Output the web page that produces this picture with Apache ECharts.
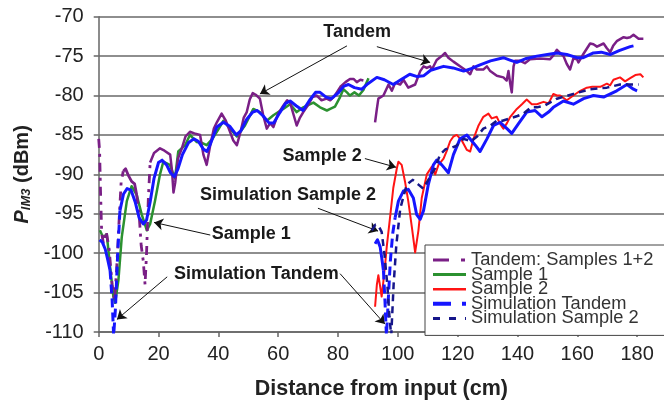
<!DOCTYPE html>
<html>
<head>
<meta charset="utf-8">
<script src="https://cdn.jsdelivr.net/npm/echarts@6/dist/echarts.min.js"></script>
<style>
html,body{margin:0;padding:0;background:#fff;}
#c{width:664px;height:405px;}
</style>
</head>
<body>
<div id="c"></div>
<script>
// ---- data (x = distance cm, y = P_IM3 dBm) ----
const xTicks = [0, 20, 40, 60, 80, 100, 120, 140, 160, 180];

const tandemDash1 = [[0,-85.5],[0.3,-87],[0.6,-92],[1,-97.5],[1.6,-98.8],[2.5,-97.2],[3.5,-99.5],[4.5,-104],[5.3,-106],[6,-102],[6.8,-96],[7.5,-91],[8.2,-89.6]];
const tandemA = [[8.2,-89.6],[9,-89.3],[10,-90.2],[11,-90.9],[12,-91.2],[12.7,-92.6]];
const tandemDash2 = [[12.7,-92.6],[13.5,-95],[14.2,-99],[14.9,-101],[15.5,-104],[16,-100],[16.6,-93],[17.2,-88.5]];
const tandemB = [[17.2,-88.5],[18.5,-87.3],[20.5,-86.7],[22,-87],[23.9,-87.5],[24.5,-89.5],[25,-92.3],[25.6,-91],[26.5,-88],[27.8,-86.7],[29,-85.2],[30.5,-84.6],[32,-84.8],[33.9,-85],[35,-87.5],[36.1,-88.8],[37.2,-86.5],[38.5,-84.2],[39.5,-83.4],[41.1,-82.3],[42.5,-83.2],[43.9,-84.6],[45,-85.7],[46.2,-86.3],[47.5,-84.5],[48.5,-82.8],[49.5,-82.1],[50.5,-80.5],[51.5,-79.7],[52.5,-79.9],[53.9,-80.4],[55,-82.5],[56.2,-84.2],[57.3,-83.5],[58.4,-84],[60,-82.3],[61.7,-81.3],[63,-80.6],[64,-80.9],[65.2,-82.5],[66.2,-83.8],[67.3,-82.8],[68.4,-82.1],[70,-81.2],[71.5,-80.2],[72.9,-80],[74.5,-80.6],[76.2,-80.4],[77.4,-80.6],[78.5,-80.2],[79.6,-79.6],[81,-78.8],[82.5,-78.3],[84,-77.9],[85.2,-77.9],[86.3,-78.3],[87.5,-78],[88.5,-78.1]];
const tandemC = [[92.4,-83.4],[93,-81.7],[93.5,-80.4],[94.1,-80.6],[95.2,-80],[96.9,-78.6],[98,-79.4],[99.1,-78.4],[100.8,-78.6],[101.9,-78],[102.4,-77.9],[103.5,-79],[104.1,-78.8],[105.8,-78.6],[106.4,-78.8],[107.5,-76.9],[108.6,-76.3],[109.7,-76.5],[110.8,-76.3],[111.4,-76.7],[113,-75.5],[114.7,-75],[115.8,-74.6],[116.9,-75.2],[118.6,-75.7],[120.8,-76.3],[123.1,-76.9],[124.2,-77.3],[125.3,-76.3],[126.4,-76.7],[128.6,-76.7],[129.8,-76.3],[130.9,-76.9],[133.1,-77.5],[135.3,-77.7],[136.4,-78.1],[137,-76.9],[137.6,-78.5],[138.1,-79.6],[138.7,-76.3],[139.2,-75.6],[140.9,-75.6],[142.5,-75.9],[144.2,-75.4],[147.6,-75.3],[150.9,-75.4],[152,-74.9],[153.2,-74.2],[155.4,-75],[156.5,-76],[157.6,-76.7],[158.7,-75.3],[159.9,-75.4],[160.4,-75.8],[162.1,-74.7],[164.3,-73.4],[165.4,-73.5],[166.6,-73.8],[168.8,-73.4],[169.9,-74],[171,-74.5],[172,-73.7],[173.2,-73.1],[175.5,-72.6],[176.6,-72.7],[177.7,-72.6],[178.8,-72.3],[179.4,-72.3],[180.5,-72.8],[182.1,-72.8]];

const sample1 = [[0.4,-97.1],[1.5,-98],[2.7,-97.6],[3.8,-101.7],[4.9,-105.5],[5.5,-106.3],[6.6,-103.4],[7.7,-98],[9.4,-93.4],[11,-91.5],[12.7,-92.6],[14.4,-95.1],[16.1,-97.1],[17.2,-96.3],[18.8,-93.4],[20.5,-90],[21.6,-88.4],[23.8,-88.8],[25.5,-90.5],[26.6,-87.1],[28.9,-86.3],[30.5,-85],[32.8,-85.9],[34.5,-86],[36.1,-86.3],[38,-85.5],[39.5,-84.6],[41.7,-83.2],[43.9,-84.2],[46.2,-85.2],[48.9,-83.8],[51.7,-81.7],[53.9,-82.1],[56.2,-83.2],[58.4,-82.5],[61.7,-81.7],[64,-81.1],[66.2,-82.1],[68.4,-81.5],[71.8,-80.9],[74,-81.5],[76.3,-81.9],[77.4,-81.7],[79,-81.4],[80.7,-80.2],[81.8,-79.2],[83,-79.6],[84,-80],[85.5,-79.6],[87,-80],[88.5,-79.3],[89.5,-78.4],[90.2,-77.8]];

const sample2 = [[92.4,-106.8],[93,-104],[93.5,-102.8],[94,-104],[94.6,-105.5],[95.2,-103.5],[95.8,-101.3],[96.3,-99.2],[97.4,-95.5],[98.5,-91.7],[99.7,-89.2],[100.2,-88.4],[101.3,-88.8],[102.4,-90.9],[103.5,-93.4],[104.7,-96.7],[105.8,-99.9],[106.9,-97.1],[108,-93],[109.7,-90],[111.4,-89],[112.5,-90],[113.6,-88.8],[115.3,-88],[116.4,-87],[117.5,-85.8],[118.6,-85.2],[119.7,-85],[121.4,-85.7],[123.1,-86.9],[124.2,-87.1],[125.3,-85.5],[127,-83.8],[128.6,-82.7],[130.3,-82.3],[131.4,-82.9],[133.1,-82.7],[134.2,-83.6],[135.3,-84.2],[136.5,-83.5],[137.6,-82.7],[139.8,-81.7],[141.5,-81.1],[143.1,-80.5],[144.8,-81.1],[146.5,-81.1],[148.7,-80.8],[150.4,-81],[152,-79.8],[153.2,-80],[154.3,-80],[156.5,-80.6],[158.7,-80],[161,-79.4],[163.2,-79],[165,-78.9],[167.7,-78.9],[169.9,-78.5],[171,-78.7],[172.1,-78],[174.3,-77.7],[176,-78.2],[177.7,-77.8],[179.4,-77.4],[181.1,-77.3],[182.1,-77.7]];

const simTandemA = [[0.3,-98.3],[1.2,-98.6],[2.2,-99.5],[3,-100.8],[3.8,-102.2]];
const simTandemDash = [[3.8,-102.2],[4.5,-106],[5,-110.5],[5.6,-107],[6.3,-100.5],[7.1,-94.6]];
const simTandemB = [[7.1,-94.6],[8.3,-92.5],[9.5,-91.8],[10.8,-92],[12.2,-93.5],[13.5,-95.5],[14.9,-96.3],[16,-95.8],[17.2,-93.5],[18.5,-90.5],[20,-88.5],[21.2,-88.2],[22.7,-88.8],[24,-89.8],[25.3,-90.3],[26.5,-89.3],[28,-87.5],[30,-86],[31.8,-85.5],[33.3,-85.8],[35,-86.8],[36.2,-87.1],[37.5,-86],[39.5,-84],[41.7,-83.4],[43.8,-83.9],[46,-85],[47.5,-84.5],[49.5,-83],[51.5,-82.1],[53,-81.9],[55,-82.6],[57,-83.5],[58.5,-83.5],[60.5,-82.2],[62.5,-81],[64,-80.7],[66,-81.3],[68.3,-81.9],[70.5,-80.6],[72.5,-79.6],[74,-79.6],[76,-80.2],[77.8,-80.4],[80,-79.7],[82,-78.8],[83.5,-78.6],[85.5,-79],[88,-79.2],[90,-78.5],[93,-77.7],[95.5,-78],[98.5,-78.6],[101,-78],[104,-77.3],[106.5,-77.6],[108.6,-77.5],[111,-76.8],[115.3,-76.3],[118.5,-76.5],[122,-76.9],[124.5,-76.6],[127.5,-76.1],[131,-75.6],[135.3,-75.2],[137.5,-75.5],[139.8,-75.8],[143,-75.3],[146.5,-75],[150,-74.8],[153.2,-74.6],[156.5,-74.8],[159.9,-75.2],[162,-75.2],[165.4,-74.6],[168,-74.5],[171,-74.8],[174,-74.3],[177.7,-73.8],[178.8,-73.7]];

const simLowA = [[92.4,-98.8],[93.2,-98.3],[94.1,-99.2],[94.6,-100.5],[95.2,-102.2]];
const simLowDash = [[95.2,-102.2],[95.7,-106],[96.2,-110.5],[96.8,-106],[97.5,-101],[98.3,-97.5],[99.1,-95.5]];
const simLowB = [[99.1,-95.5],[100.2,-93.4],[101.9,-92.1],[103.5,-91.9],[105.2,-93],[106.3,-95.1],[107.5,-95.7],[108.6,-94.6],[110.2,-91.3],[111.9,-88.8],[113,-88.2],[114.7,-88.8],[116.9,-89.8],[118.6,-87.5],[120.8,-85.5],[123.1,-85],[125.9,-86.3],[127.5,-87.1],[129.8,-85.5],[132,-83.8],[134.2,-83.4],[136.5,-84.2],[138.1,-84.8],[140.3,-83.6],[143.1,-82.1],[145.9,-81.9],[148.2,-82.7],[150.4,-82.1],[152,-81.5],[155.4,-80.7],[158.7,-81.1],[162.1,-80.4],[165.4,-80],[168.8,-80.2],[173.2,-79.4],[176.6,-78.6],[178.8,-79.2],[180,-79.4]];

const simSample2 = [[91.3,-97.1],[92.5,-96.4],[93.5,-96.5],[94.6,-97.3],[95.5,-100],[96.5,-104],[97.2,-108],[97.8,-110.5],[98.6,-104],[99.5,-99],[100.8,-94.4],[101.9,-92.8],[103,-91.3],[105,-90.7],[106.9,-91.3],[108.5,-91.8],[110.5,-90.5],[112.5,-89.2],[114.1,-87.5],[116,-86.8],[117.5,-86.7],[119.5,-86.4],[122,-85.5],[124.5,-85.8],[126.5,-85.2],[128.6,-84.2],[131,-83.8],[133.1,-83.2],[135,-83.2],[137.6,-82.9],[140,-82.6],[142,-82.3],[144.5,-81.5],[146.5,-81.5],[149,-81.3],[153.2,-80.4],[158.7,-79.8],[164.3,-79.2],[169.9,-79],[174.3,-78.6],[177.7,-78.6],[180.5,-78.6]];

// annotations (data coordinates)
const noteTexts = [
  {name:'Tandem', coord:[86.4,-72.0]},
  {name:'Sample 2', coord:[74.7,-87.7]},
  {name:'Simulation Sample 2', coord:[63.3,-92.6]},
  {name:'Sample 1', coord:[51.0,-97.6]},
  {name:'Simulation Tandem', coord:[52.7,-102.6]}
];
const noteArrows = [
  [[83.0,-73.7],[53.9,-79.8]],
  [[93.0,-73.8],[110.8,-75.8]],
  [[89.0,-88.0],[99.4,-89.1]],
  [[73.3,-94.3],[93.4,-97.2]],
  [[37.3,-97.7],[18.5,-96.1]],
  [[22.9,-103.0],[6.1,-108.4]],
  [[80.7,-102.6],[95.7,-109.0]]
];

// ---- styles ----
const FONT = 'Liberation Sans, Arial, sans-serif';
const C_PURPLE = '#7a1f86', C_GREEN = '#2b9130', C_RED = '#ff1414', C_BLUE = '#1616ff', C_NAVY = '#16168a';
const N_T = 'Tandem: Samples 1+2', N_S1 = 'Sample 1', N_S2 = 'Sample 2', N_ST = 'Simulation Tandem', N_SS2 = 'Simulation Sample 2';

function line(name, data, color, width, type, z) {
  return {
    type: 'line', name: name, data: data, symbol: 'none', showSymbol: false,
    lineStyle: {color: color, width: width, type: type || 'solid', cap: 'butt', join: 'round'},
    itemStyle: {color: color}, clip: true, z: z || 2, animation: false, silent: true
  };
}
const noSym = {color: 'rgba(0,0,0,0)', borderWidth: 0, opacity: 0};

const chart = echarts.init(document.getElementById('c'), null, {renderer: 'canvas'});
chart.setOption({
  animation: false,
  backgroundColor: '#fff',
  grid: {left: 98.7, top: 16.7, right: 0, bottom: 69, containLabel: false},
  xAxis: {
    type: 'value', min: 0, max: 189, interval: 20,
    name: 'Distance from input (cm)', nameLocation: 'middle', nameGap: 46,
    nameTextStyle: {fontFamily: FONT, fontWeight: 'bold', fontSize: 21.5, color: '#222'},
    axisLine: {show: true, lineStyle: {color: '#666', width: 1.5}},
    axisTick: {show: true, length: 5, lineStyle: {color: '#666', width: 1.5}, customValues: xTicks},
    axisLabel: {fontFamily: FONT, fontSize: 20, color: '#222', margin: 12, customValues: xTicks},
    splitLine: {show: false}
  },
  yAxis: {
    type: 'value', min: -110, max: -70, interval: 5,
    name: '{p|P}{s|IM3}{n| (dBm)}', nameLocation: 'middle', nameGap: 64,
    nameTextStyle: {
      fontFamily: FONT, color: '#222',
      rich: {
        p: {fontFamily: FONT, fontStyle: 'italic', fontWeight: 'bold', fontSize: 20, color: '#222'},
        s: {fontFamily: FONT, fontStyle: 'italic', fontWeight: 'bold', fontSize: 13, color: '#222', verticalAlign: 'bottom', padding: [8, 0, 0, 0]},
        n: {fontFamily: FONT, fontWeight: 'bold', fontSize: 20, color: '#222'}
      }
    },
    axisLine: {show: true, lineStyle: {color: '#666', width: 1.5}},
    axisTick: {show: true, length: 5, lineStyle: {color: '#666', width: 1.5}},
    axisLabel: {fontFamily: FONT, fontSize: 20, color: '#222', margin: 15},
    splitLine: {show: true, lineStyle: {color: '#8e8e8e', width: 2}}
  },
  legend: {
    orient: 'vertical', left: 425, top: 245,
    padding: [6, 12, 8, 6], itemGap: -3.4, itemWidth: 33, itemHeight: 10,
    backgroundColor: '#fff', borderColor: '#444', borderWidth: 1, borderRadius: 0,
    selectedMode: false,
    itemStyle: noSym,
    textStyle: {fontFamily: FONT, fontSize: 18.3, color: '#333'},
    data: [
      {name: N_T, itemStyle: noSym, lineStyle: {color: C_PURPLE, width: 3, type: [16, 12, 4, 10]}},
      {name: N_S1, itemStyle: noSym, lineStyle: {color: C_GREEN, width: 3, type: 'solid'}},
      {name: N_S2, itemStyle: noSym, lineStyle: {color: C_RED, width: 2.5, type: 'solid'}},
      {name: N_ST, itemStyle: noSym, lineStyle: {color: C_BLUE, width: 4, type: [18, 11, 4, 10]}},
      {name: N_SS2, itemStyle: noSym, lineStyle: {color: C_NAVY, width: 3, type: [7, 9]}}
    ]
  },
  series: [
    line(N_S1, sample1, C_GREEN, 2.5, 'solid', 2),
    line(N_T, tandemDash1, C_PURPLE, 2.8, [9, 6, 3, 6], 3),
    line(N_T, tandemA, C_PURPLE, 2.8, 'solid', 3),
    line(N_T, tandemDash2, C_PURPLE, 2.8, [9, 6, 3, 6], 3),
    line(N_T, tandemB, C_PURPLE, 2.5, 'solid', 3),
    line(N_T, tandemC, C_PURPLE, 2.5, 'solid', 3),
    line(N_S2, sample2, C_RED, 2, 'solid', 4),
    line(N_ST, simTandemA, C_BLUE, 3, 'solid', 5),
    line(N_ST, simTandemDash, C_BLUE, 3, [9, 5], 5),
    line(N_ST, simTandemB, C_BLUE, 3, 'solid', 5),
    line(N_ST, simLowA, C_BLUE, 3, 'solid', 5),
    line(N_ST, simLowDash, C_BLUE, 3, [9, 5], 5),
    line(N_ST, simLowB, C_BLUE, 3, 'solid', 5),
    line(N_SS2, simSample2, C_NAVY, 2.5, [7, 5], 6),
    {
      type: 'line', name: 'annotations', data: [], silent: true, animation: false, z: 10,
      markLine: {
        silent: true, animation: false, symbol: ['none', 'arrow'], symbolSize: 9, precision: 2,
        lineStyle: {color: '#111', width: 1, type: 'solid'},
        itemStyle: {color: '#111'},
        label: {show: false},
        emphasis: {disabled: true},
        data: noteArrows.map(a => [{coord: a[0]}, {coord: a[1]}])
      },
      markPoint: {
        silent: true, animation: false, symbol: 'circle', symbolSize: 0,
        label: {show: true, position: 'inside', formatter: '{b}', fontFamily: FONT, fontWeight: 'bold', fontSize: 18, color: '#1a1a1a'},
        data: noteTexts.map(t => ({name: t.name, coord: t.coord}))
      }
    }
  ]
});
</script>
</body>
</html>
